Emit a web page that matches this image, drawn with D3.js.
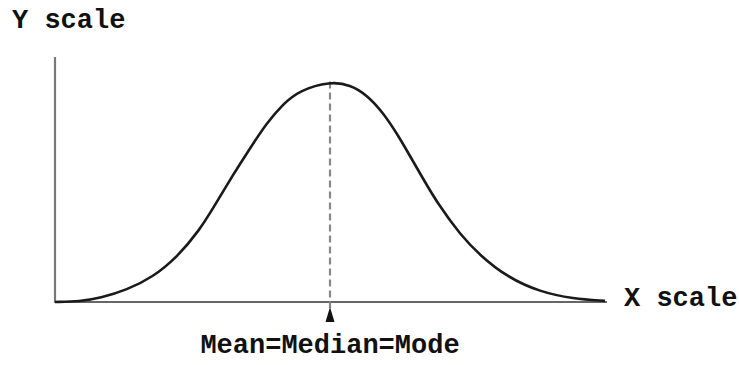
<!DOCTYPE html>
<html>
<head>
<meta charset="utf-8">
<script src="https://cdn.jsdelivr.net/npm/d3@7"></script>
<style>
  html, body { margin: 0; padding: 0; background: #fff; }
  svg { display: block; }
  text { font-family: "Liberation Mono", "Courier New", monospace; font-weight: bold; fill: #111; }
</style>
</head>
<body>
<svg id="chart" width="739" height="365"></svg>
<script>
// Standard-score positions along the X scale and the relative frequency read at each one
const zValues = [-3.10, -2.82, -2.59, -2.29, -2.00, -1.72, -1.47, -1.32, -1.09, -0.90, -0.71, -0.53, -0.34, 0.00,
                 0.23, 0.42, 0.60, 0.76, 0.90, 1.05, 1.21, 1.47, 1.69, 1.99, 2.37, 2.74, 3.10];
const densityValues = [0.000, 0.001, 0.007, 0.022, 0.045, 0.082, 0.131, 0.170, 0.232, 0.280, 0.326, 0.360, 0.385, 0.401,
                       0.395, 0.376, 0.344, 0.305, 0.266, 0.224, 0.180, 0.122, 0.085, 0.046, 0.018, 0.006, 0.002];
const centreValue = [0.00];          // mean, median and mode coincide
const axisLabels = ["X scale", "Y scale"];
const centreLabel = ["Mean=Median=Mode"];

const svg = d3.select("#chart");

const x = d3.scaleLinear().domain([-3.1, 3.1]).range([55, 605]);
const y = d3.scaleLinear().domain([0, 0.4]).range([302, 82]);
const yTop = 57;

const points = zValues.map((z, i) => ({ z, d: densityValues[i] }));

// Axes: plain lines without ticks
svg.append("line")
  .attr("x1", x.range()[0]).attr("x2", x.range()[0])
  .attr("y1", yTop).attr("y2", y(0) + 1)
  .attr("stroke", "#777").attr("stroke-width", 2.2);

svg.append("line")
  .attr("x1", x.range()[0]).attr("x2", x.range()[1] + 2)
  .attr("y1", y(0)).attr("y2", y(0))
  .attr("stroke", "#666").attr("stroke-width", 2.2);

// Dashed centre line from the peak down through the axis
const peak = d3.max(densityValues);
svg.selectAll("line.centre").data(centreValue).join("line")
  .attr("class", "centre")
  .attr("x1", d => x(d)).attr("x2", d => x(d))
  .attr("y1", y(peak)).attr("y2", y(0) + 6)
  .attr("stroke", "#888").attr("stroke-width", 2.2)
  .attr("stroke-dasharray", "7,4");

// Upward arrowhead under the axis
svg.selectAll("path.arrow").data(centreValue).join("path")
  .attr("class", "arrow")
  .attr("d", d => {
    const cx = x(d), tip = y(0) + 5;
    return `M${cx},${tip} L${cx - 4.5},${tip + 15} L${cx + 4.5},${tip + 15} Z`;
  })
  .attr("fill", "#111");

// Bell curve
const line = d3.line()
  .x(p => x(p.z))
  .y(p => y(p.d))
  .curve(d3.curveBasis);

svg.append("path")
  .datum(points)
  .attr("d", line)
  .attr("fill", "none")
  .attr("stroke", "#1a1a1a")
  .attr("stroke-width", 2.6)
  .attr("stroke-linejoin", "round");

// Labels
svg.append("text")
  .attr("x", 12).attr("y", 28)
  .attr("font-size", 27)
  .text(axisLabels[1]);

svg.append("text")
  .attr("x", 624).attr("y", 306)
  .attr("font-size", 27)
  .text(axisLabels[0]);

svg.selectAll("text.centre-label").data(centreValue).join("text")
  .attr("class", "centre-label")
  .attr("x", d => x(d)).attr("y", 353)
  .attr("text-anchor", "middle")
  .attr("font-size", 27)
  .text(centreLabel[0]);
</script>
</body>
</html>
